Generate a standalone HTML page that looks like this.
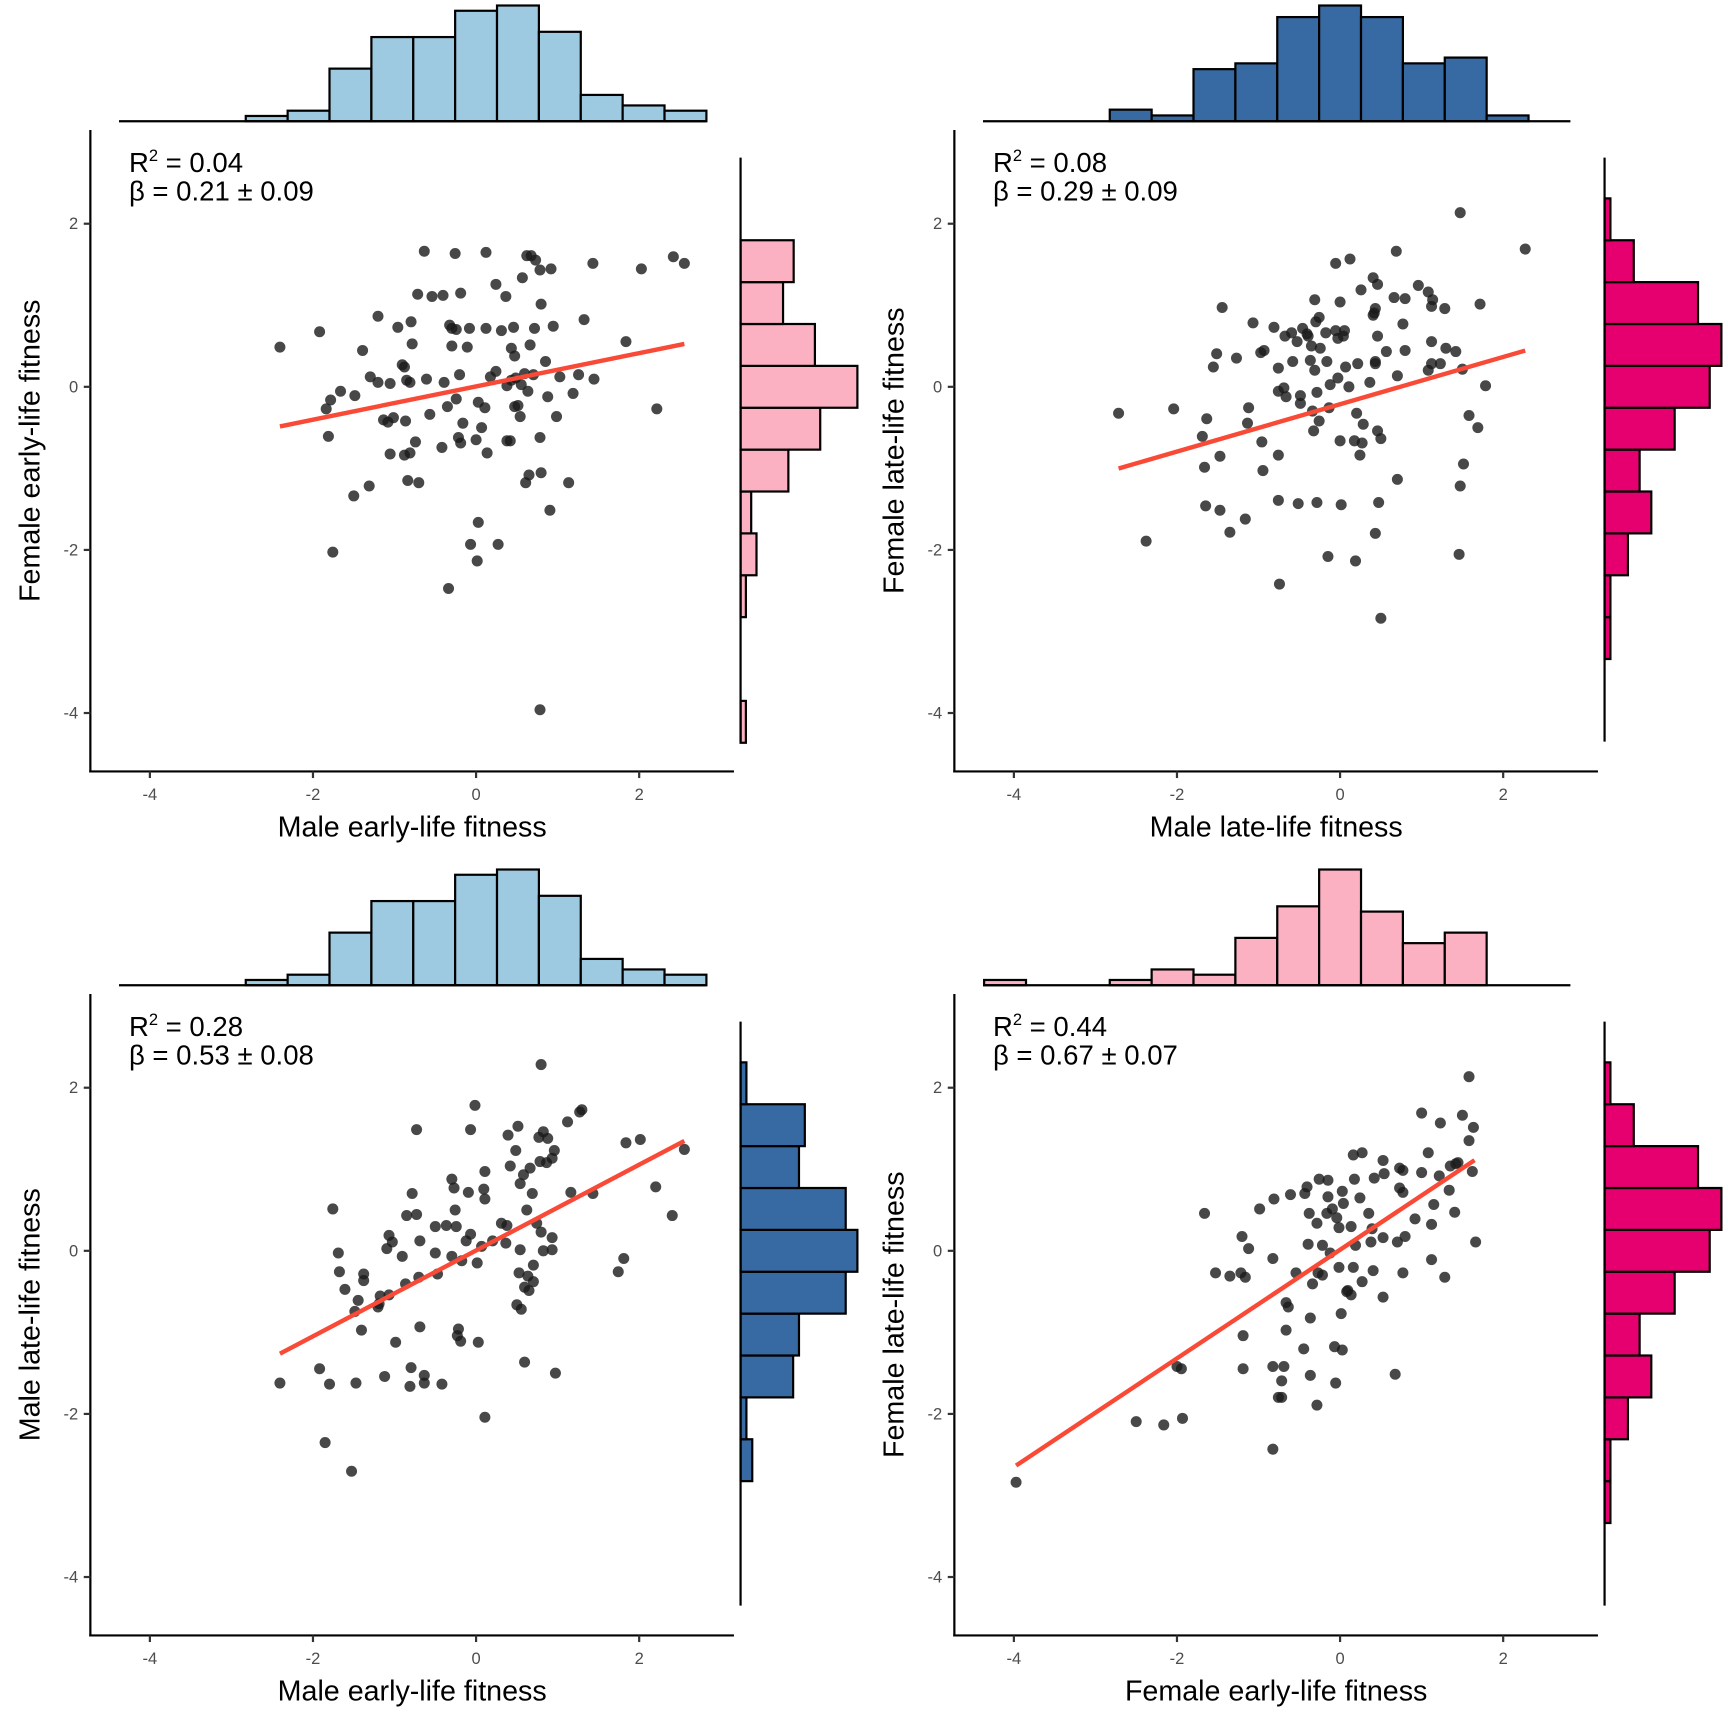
<!DOCTYPE html>
<html><head><meta charset="utf-8"><style>
html,body{margin:0;padding:0;background:#fff;}
svg{display:block;font-family:"Liberation Sans","DejaVu Sans",sans-serif;}
</style></head><body>
<svg id="chart" width="1728" height="1728" viewBox="0 0 1568 1568" xmlns="http://www.w3.org/2000/svg"></svg>
<script>
// ---------- data ----------
const tickValues = [-4, -2, 0, 2];
const tickLabels = ["-4", "-2", "0", "2"];

// histogram counts, bins centered at k*0.5135
const maleEarlyK = [-5,-4,-3,-2,-1,0,1,2,3,4,5];
const maleEarlyCounts = [1,2,10,16,16,21,22,17,5,3,2];
const maleLateK = [-5,-4,-3,-2,-1,0,1,2,3,4];
const maleLateCounts = [2,1,9,10,18,20,18,10,11,1];
const femaleEarlyK = [-8,-5,-4,-3,-2,-1,0,1,2,3];
const femaleEarlyCounts = [1,1,3,2,9,15,22,14,8,10];
const femaleLateK = [-6,-5,-4,-3,-2,-1,0,1,2,3,4];
const femaleLateCounts = [1,1,4,8,6,12,18,20,16,5,1];

// scatter points (pixel-read, converted to data units below)
const p1 = [[254,315],[290,301],[385,228],[413,230],[441,229],[450,258],[478,232],[482,232],[486,236],[490,245],[500,244],[538,239],[582,244],[611,233],[621,239],[379,267],[392,269],[402,268],[418,266],[459,269],[474,252],[491,276],[343,287],[373,292],[408,295],[410,298],[414,299],[426,298],[441,298],[455,300],[466,297],[485,298],[502,296],[530,290],[568,310],[361,297],[374,312],[367,333],[410,314],[424,315],[464,316],[467,323],[481,313],[495,328],[476,339],[450,337],[460,350],[365,331],[329,318],[336,342],[343,347],[309,355],[300,363],[296,371],[322,359],[354,348],[369,345],[372,347],[387,344],[417,340],[403,347],[445,342],[464,345],[468,343],[473,349],[484,340],[508,342],[525,340],[539,344],[520,357],[497,360],[479,355],[414,362],[406,369],[434,365],[440,370],[467,369],[472,378],[505,378],[470,368],[390,376],[357,379],[368,382],[348,381],[352,383],[377,401],[420,384],[437,388],[432,399],[460,400],[463,400],[490,397],[372,411],[401,406],[418,402],[416,397],[442,411],[354,412],[367,413],[298,396],[596,371],[480,431],[477,438],[491,429],[516,438],[380,438],[370,436],[335,441],[321,450],[499,463],[434,474],[302,501],[427,494],[452,494],[433,509],[407,534],[490,644]];
const p2 = [[1325,193],[1384,226],[1267,228],[1212,239],[1225,235],[1246,252],[1250,258],[1265,270],[1287,259],[1296,265],[1299,278],[1311,280],[1300,272],[1343,276],[1193,272],[1216,274],[1235,263],[1275,271],[1248,280],[1247,284],[1273,294],[1246,286],[1109,279],[1137,293],[1156,297],[1166,305],[1172,302],[1186,303],[1182,298],[1194,292],[1197,288],[1203,302],[1212,300],[1220,300],[1219,305],[1214,307],[1250,305],[1198,316],[1189,327],[1204,328],[1193,336],[1232,330],[1248,330],[1258,319],[1275,318],[1299,310],[1312,316],[1321,319],[1307,330],[1296,336],[1327,335],[1348,350],[1299,330],[1104,321],[1101,333],[1122,325],[1144,320],[1147,318],[1160,334],[1173,328],[1177,310],[1190,314],[1187,305],[1165,352],[1160,355],[1167,360],[1180,359],[1195,356],[1207,349],[1214,343],[1221,333],[1224,351],[1243,347],[1248,328],[1268,341],[1133,370],[1095,380],[1015,375],[1065,371],[1091,396],[1107,414],[1132,384],[1145,401],[1160,413],[1180,366],[1191,373],[1192,391],[1206,370],[1231,375],[1237,385],[1250,391],[1236,402],[1234,413],[1229,400],[1197,382],[1216,400],[1253,398],[1333,377],[1341,388],[1328,421],[1325,441],[1268,435],[1146,427],[1093,424],[1094,459],[1107,463],[1130,471],[1116,483],[1160,454],[1178,457],[1195,456],[1217,458],[1248,484],[1251,456],[1040,491],[1205,505],[1230,509],[1324,503],[1161,530],[1253,561]];
const p3 = [[491,966],[528,1007],[526,1009],[515,1018],[470,1022],[461,1030],[493,1027],[497,1033],[489,1032],[427,1025],[378,1025],[431,1003],[468,1044],[503,1044],[490,1054],[501,1051],[496,1055],[481,1060],[475,1066],[472,1074],[483,1083],[518,1082],[538,1083],[568,1037],[581,1034],[595,1077],[610,1103],[621,1043],[463,1058],[440,1063],[439,1079],[425,1082],[440,1088],[410,1070],[412,1078],[302,1097],[374,1083],[378,1102],[369,1103],[413,1098],[405,1112],[414,1113],[455,1110],[460,1112],[478,1098],[487,1110],[491,1118],[427,1120],[423,1126],[395,1113],[381,1126],[353,1121],[356,1127],[365,1140],[307,1137],[308,1154],[330,1156],[330,1162],[351,1133],[325,1180],[345,1176],[344,1183],[353,1175],[343,1186],[395,1137],[410,1140],[437,1131],[447,1126],[459,1128],[472,1134],[493,1135],[501,1134],[501,1123],[484,1148],[471,1155],[476,1168],[484,1163],[479,1158],[480,1171],[469,1184],[473,1188],[566,1142],[561,1154],[380,1159],[419,1144],[433,1146],[397,1156],[368,1165],[313,1170],[322,1190],[381,1204],[328,1207],[416,1206],[415,1212],[418,1217],[434,1218],[359,1218],[373,1241],[372,1258],[385,1255],[385,1248],[401,1256],[349,1249],[323,1255],[290,1242],[299,1256],[254,1255],[476,1236],[504,1246],[440,1286],[295,1309],[319,1335]];
const p4 = [[1333,977],[1290,1010],[1327,1012],[1337,1023],[1307,1019],[1333,1035],[1236,1046],[1228,1048],[1255,1053],[1296,1046],[1321,1056],[1316,1058],[1323,1055],[1336,1063],[1306,1067],[1290,1064],[1273,1062],[1270,1060],[1256,1065],[1247,1069],[1229,1070],[1205,1071],[1197,1070],[1186,1077],[1184,1083],[1171,1084],[1156,1088],[1143,1097],[1093,1101],[1218,1081],[1219,1092],[1205,1086],[1209,1097],[1213,1105],[1195,1110],[1188,1101],[1204,1101],[1234,1087],[1242,1101],[1245,1115],[1226,1113],[1215,1114],[1273,1082],[1270,1078],[1284,1106],[1299,1111],[1301,1093],[1315,1080],[1320,1100],[1339,1127],[1275,1122],[1268,1127],[1255,1123],[1244,1127],[1230,1130],[1200,1130],[1187,1129],[1127,1122],[1133,1133],[1155,1142],[1207,1137],[1215,1150],[1228,1150],[1200,1157],[1236,1163],[1126,1155],[1103,1155],[1116,1158],[1130,1159],[1191,1165],[1196,1155],[1223,1171],[1246,1153],[1273,1155],[1299,1143],[1311,1159],[1176,1155],[1167,1182],[1169,1186],[1222,1172],[1226,1175],[1255,1177],[1189,1196],[1167,1207],[1217,1192],[1211,1222],[1218,1225],[1183,1224],[1128,1212],[1128,1242],[1155,1240],[1165,1240],[1163,1253],[1189,1248],[1212,1255],[1266,1247],[1068,1240],[1072,1242],[1160,1268],[1163,1268],[1195,1275],[1031,1290],[1056,1293],[1073,1287],[1155,1315],[922,1345]];

// regression lines: [xStart, xEnd, intercept, slope]
const fit1 = [-2.405, 2.554, 0.005, 0.204];
const fit2 = [-2.716, 2.27, -0.214, 0.29];
const fit3 = [-2.405, 2.554, 0.004, 0.526];
const fit4 = [-3.973, 1.649, 0.013, 0.666];

const r2Labels = ["0.04","0.08","0.28","0.44"];
const betaLabels = ["0.21 ± 0.09","0.29 ± 0.09","0.53 ± 0.08","0.67 ± 0.07"];
const xTitles = ["Male early-life fitness","Male late-life fitness","Male early-life fitness","Female early-life fitness"];
const yTitles = ["Female early-life fitness","Female late-life fitness","Male late-life fitness","Female late-life fitness"];

// ---------- drawing ----------
const svg = document.getElementById('chart');
const NS = 'http://www.w3.org/2000/svg';
function mk(tag, attrs, parent){const e=document.createElementNS(NS,tag);for(const k in attrs)e.setAttribute(k,attrs[k]);(parent||svg).appendChild(e);return e;}
const U = 74, BW = 0.5135;

const panels = [
 {ox:0,oy:0,pts:p1,fit:fit1,topK:maleEarlyK,topC:maleEarlyCounts,topCol:'#9ecae1',rK:femaleEarlyK,rC:femaleEarlyCounts,rCol:'#fcb1c3'},
 {ox:784,oy:0,pts:p2,fit:fit2,topK:maleLateK,topC:maleLateCounts,topCol:'#376aa3',rK:femaleLateK,rC:femaleLateCounts,rCol:'#e6006f'},
 {ox:0,oy:784,pts:p3,fit:fit3,topK:maleEarlyK,topC:maleEarlyCounts,topCol:'#9ecae1',rK:maleLateK,rC:maleLateCounts,rCol:'#376aa3'},
 {ox:784,oy:784,pts:p4,fit:fit4,topK:femaleEarlyK,topC:femaleEarlyCounts,topCol:'#fcb1c3',rK:femaleLateK,rC:femaleLateCounts,rCol:'#e6006f'}
];

panels.forEach((P,i)=>{
  const g = mk('g',{});
  
  
  const X0 = 432+P.ox, Y0 = 351+P.oy;
  const sx = v => X0 + v*U, sy = v => Y0 - v*U;
  // top histogram
  const hg = mk('g',{},g);
  
  
  const base = 110+P.oy, tmax = Math.max(...P.topC), ts = 105/tmax;
  P.topK.forEach((k,j)=>{
    const h = P.topC[j]*ts, x = sx(k*BW - BW/2);
    const r = mk('rect',{x:x,y:base-h,width:BW*U,height:h,fill:P.topCol,stroke:'#000','stroke-width':2},hg);
    
    
  });
  mk('line',{x1:108+P.ox,x2:641+P.ox,y1:base,y2:base,stroke:'#000','stroke-width':2},hg);
  // right histogram
  const rg = mk('g',{},g);
  
  
  const rb = 672+P.ox, rmax = Math.max(...P.rC), rs = 106/rmax;
  P.rK.forEach((k,j)=>{
    const w = P.rC[j]*rs, y = sy(k*BW + BW/2);
    const r = mk('rect',{x:rb,y:y,width:w,height:BW*U,fill:P.rCol,stroke:'#000','stroke-width':2},rg);
    
    
  });
  mk('line',{x1:rb,x2:rb,y1:143+P.oy,y2:673+P.oy,stroke:'#000','stroke-width':2},rg);
  // axes
  const ax = mk('g',{},g);
  
  
  const L = 82+P.ox, B = 700+P.oy;
  mk('line',{x1:L,x2:L,y1:118+P.oy,y2:B+1,stroke:'#000','stroke-width':2},ax);
  mk('line',{x1:L-1,x2:666+P.ox,y1:B,y2:B,stroke:'#000','stroke-width':2},ax);
  tickValues.forEach((v,j)=>{
    mk('line',{x1:sx(v),x2:sx(v),y1:B,y2:B+6,stroke:'#333','stroke-width':2},ax);
    const t = mk('text',{x:sx(v),y:B+26,'text-anchor':'middle','font-size':15,fill:'#4d4d4d'},ax);
    t.textContent = tickLabels[j];
    
    
    mk('line',{x1:L-6,x2:L,y1:sy(v),y2:sy(v),stroke:'#333','stroke-width':2},ax);
    const t2 = mk('text',{x:L-11,y:sy(v)+5,'text-anchor':'end','font-size':15,fill:'#4d4d4d'},ax);
    t2.textContent = tickLabels[j];
    
    
  });
  const xt = mk('text',{x:374+P.ox,y:759+P.oy,'text-anchor':'middle','font-size':26,fill:'#000'},ax);
  xt.textContent = xTitles[i];
  
  
  const yt = mk('text',{x:0,y:0,'text-anchor':'middle','font-size':26,fill:'#000',transform:`translate(${36+P.ox},${409+P.oy}) rotate(-90)`},ax);
  yt.textContent = yTitles[i];
  
  
  // points (pixel -> data -> pixel)
  const pg = mk('g',{},g);
  
  
  P.pts.forEach(p=>{
    const dx = (p[0]-X0)/U, dy = (Y0-p[1])/U;
    const c = mk('circle',{cx:sx(dx),cy:sy(dy),r:5,fill:'#1a1a1a','fill-opacity':0.8},pg);
    
    
  });
  // fit line
  const f = P.fit;
  const ln = mk('line',{x1:sx(f[0]),y1:sy(f[2]+f[3]*f[0]),x2:sx(f[1]),y2:sy(f[2]+f[3]*f[1]),stroke:'#f84a36','stroke-width':4},g);
  
  
  // annotation
  const a1 = mk('text',{x:117+P.ox,y:156+P.oy,'font-size':25,fill:'#000'},g);
  a1.innerHTML = 'R<tspan dy="-10" font-size="15">2</tspan><tspan dy="10"> = '+r2Labels[i]+'</tspan>';
  
  
  const a2 = mk('text',{x:117+P.ox,y:182+P.oy,'font-size':25,fill:'#000'},g);
  a2.textContent = 'β = '+betaLabels[i];
  
  
});
</script>
</body></html>
